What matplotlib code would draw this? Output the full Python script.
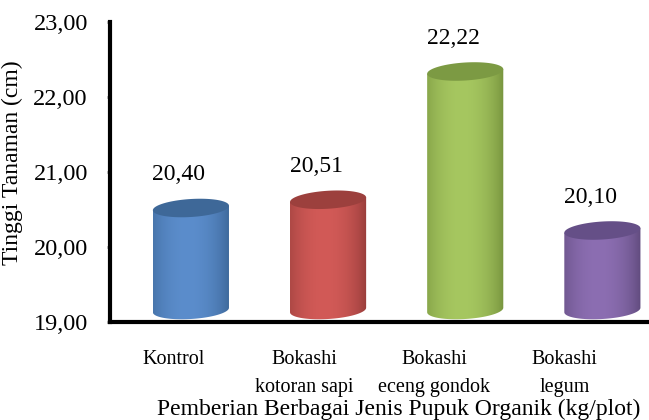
import matplotlib
matplotlib.use('Agg')
import matplotlib.pyplot as plt
from matplotlib.patches import Polygon
from matplotlib.colors import to_rgb
import numpy as np

# data
categories=['Kontrol','Bokashi\nkotoran sapi','Bokashi\neceng gondok','Bokashi\nlegum']
values=[20.40,20.51,22.22,20.10]
value_labels=['20,40','20,51','22,22','20,10']
yticks=[19,20,21,22,23]
ytick_labels=['19,00','20,00','21,00','22,00','23,00']

# cylinder colours: (edge dark, centre light, top)
dark_cols=['#37608f','#8c3735','#6e8a37','#584473']
light_cols=['#5b8dcc','#d25a57','#a6c760','#8c6eb2']
top_cols=['#3e6898','#9c403d','#7c9a43','#654f87']

plt.rcParams['font.family']=['Liberation Serif','DejaVu Serif']

fig=plt.figure(figsize=(6.49,4.2),dpi=100)
ax=fig.add_axes([110/649,98/420,539/649,300/420])

width=0.555
ry=0.12      # half height of the ellipses (data units)
tilt=0.03    # left side of ellipses a bit lower
top_off=0.12 # 3D depth shift
bot_c=19.16

x=np.arange(len(values))
u=np.linspace(0,1,200)
w=np.clip(1-((u-0.45)/0.58)**2,0,1)**0.8

for i,v in enumerate(values):
    x0=x[i]-width/2
    x1=x[i]+width/2
    yt=v+top_off
    # body outline: left edge, bottom half ellipse, right edge, top
    th=np.linspace(np.pi,2*np.pi,60)
    bx=x[i]+width/2*np.cos(th)
    by=bot_c+ry*np.sin(th)+tilt*np.cos(th)
    verts=[(x0,yt-tilt)]+list(zip(bx,by))+[(x1,yt+tilt)]
    body=Polygon(verts,closed=True,facecolor='none',edgecolor='none')
    ax.add_patch(body)
    d=np.array(to_rgb(dark_cols[i]))
    l=np.array(to_rgb(light_cols[i]))
    grad=d[None,:]*(1-w[:,None])+l[None,:]*w[:,None]
    im=ax.imshow(grad[None,:,:],extent=(x0,x1,bot_c-ry-tilt,yt+tilt),aspect='auto',
                 interpolation='bilinear',zorder=2)
    im.set_clip_path(body)
    # top ellipse
    t=np.linspace(0,2*np.pi,120)
    tx=x[i]+width/2*np.cos(t)
    ty=yt+ry*np.sin(t)+tilt*np.cos(t)
    ax.add_patch(Polygon(np.column_stack([tx,ty]),closed=True,facecolor=top_cols[i],
                         edgecolor='none',zorder=3))
    ax.annotate(value_labels[i],(x[i],v),xytext=(-12,42),textcoords='offset pixels',
                ha='center',va='center',fontsize=17)

ax.set_xlim(-0.59,3.34)
ax.set_ylim(19,23)
ax.set_yticks(yticks)
ax.set_yticklabels(ytick_labels,fontsize=17.5)
# category labels sit a little left of the bars (3D perspective)
label_pos=x*130/137-17/137
ax.set_xticks(label_pos)
ax.set_xticklabels(categories,fontsize=14.5,linespacing=1.68)
ax.tick_params(axis='x',length=0,pad=20)
ax.tick_params(axis='y',length=2.5,width=2,color='#808080',pad=13.5)

for s in ['top','right']:
    ax.spines[s].set_visible(False)
ax.spines['left'].set_linewidth(3)
ax.spines['bottom'].set_linewidth(3)

ax.set_ylabel('Tinggi Tanaman (cm)',fontsize=17)
ax.yaxis.set_label_coords(-0.161,0.53)
ax.set_xlabel('Pemberian Berbagai Jenis Pupuk Organik (kg/plot)',fontsize=17,ha='left',va='center')
ax.xaxis.set_label_coords((157-110)/539,-0.293)

plt.savefig('out.png',dpi=100)
